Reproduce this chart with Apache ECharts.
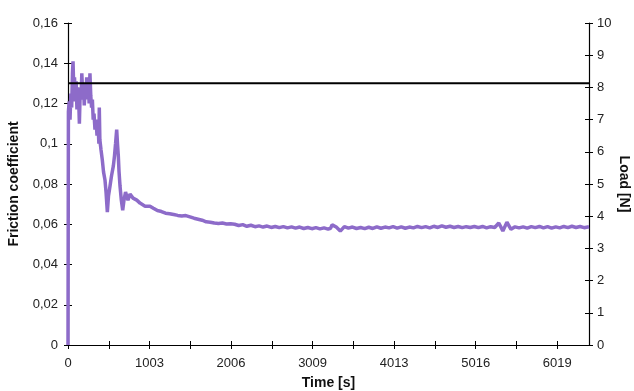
<!DOCTYPE html>
<html>
<head>
<meta charset="utf-8">
<script src="https://cdn.jsdelivr.net/npm/echarts@6/dist/echarts.min.js"></script>
<style>html,body{margin:0;padding:0;background:#fff;}#c{width:634px;height:391px;}</style>
</head>
<body>
<div id="c"></div>
<script>
// ---- data ----
var timeLabels = ['0', '1003', '2006', '3009', '4013', '5016', '6019'];
var frictionLabels = ['0', '0,02', '0,04', '0,06', '0,08', '0,1', '0,12', '0,14', '0,16'];
var loadLabels = ['0', '1', '2', '3', '4', '5', '6', '7', '8', '9', '10'];

var time = [
  0, 5, 15, 25, 35, 45, 55, 62, 70, 80, 90, 100, 110, 120, 130, 140, 150, 160, 170, 180,
  190, 200, 210, 220, 230, 240, 250, 260, 270, 280, 290, 300, 310, 320, 332, 345, 357, 369, 380, 385,
  392, 406, 422, 437, 455, 468, 484, 498, 517, 535, 558, 572,
  585, 599, 609, 619, 628, 640, 656, 673, 689, 708, 722, 738, 763, 800, 846, 886, 948, 1009,
  1050, 1100, 1150, 1200, 1250, 1300, 1350, 1400, 1450, 1500, 1550, 1600, 1650, 1700, 1750, 1800, 1850, 1900, 1950, 2000,
  2050, 2100, 2150, 2200, 2250, 2300, 2350, 2400, 2450, 2500, 2550, 2600, 2650, 2700, 2750, 2800, 2850, 2900, 2950, 3000,
  3050, 3100, 3150, 3200, 3230, 3250, 3300, 3350, 3400, 3450, 3500, 3550, 3600, 3650, 3700, 3750, 3800, 3850, 3900, 3950,
  4000, 4050, 4100, 4150, 4200, 4250, 4300, 4350, 4400, 4450, 4500, 4550, 4600, 4650, 4700, 4750, 4800, 4850, 4900, 4950,
  5000, 5050, 5100, 5150, 5200, 5250, 5300, 5350, 5400, 5450, 5500, 5550, 5600, 5650, 5700, 5750, 5800, 5850, 5900, 5950,
  6000, 6050, 6100, 6150, 6200, 6250, 6300, 6350, 6410
];
var friction = [
  0, 0.116, 0.121, 0.112, 0.125, 0.118, 0.135, 0.141, 0.128, 0.133, 0.121, 0.131, 0.117, 0.128, 0.124, 0.110, 0.126, 0.122, 0.135, 0.125,
  0.130, 0.119, 0.128, 0.122, 0.133, 0.123, 0.130, 0.120, 0.135, 0.124, 0.118, 0.122, 0.112, 0.115, 0.107, 0.112, 0.104, 0.110, 0.100, 0.118,
  0.102, 0.097, 0.092, 0.086, 0.082, 0.076, 0.066, 0.074, 0.079, 0.084, 0.089, 0.094,
  0.100, 0.107, 0.100, 0.094, 0.086, 0.079, 0.072, 0.067, 0.072, 0.076, 0.074, 0.072, 0.075, 0.073, 0.072, 0.0705, 0.069, 0.069,
  0.0680, 0.0668, 0.0663, 0.0655, 0.0652, 0.0648, 0.0644, 0.0641, 0.0643, 0.0637, 0.0630, 0.0625, 0.0620, 0.0612, 0.0610, 0.0606, 0.0604, 0.0606, 0.0601, 0.0603,
  0.0600, 0.0594, 0.0598, 0.0590, 0.0595, 0.0588, 0.0592, 0.0586, 0.0591, 0.0584, 0.0589, 0.0583, 0.0588, 0.0582, 0.0587, 0.0581, 0.0586, 0.0579, 0.0584, 0.0578,
  0.0583, 0.0577, 0.0582, 0.0576, 0.0580, 0.0597, 0.0586, 0.0566, 0.0588, 0.0581, 0.0586, 0.0579, 0.0584, 0.0578, 0.0585, 0.0579, 0.0587, 0.0580, 0.0586, 0.0582,
  0.0588, 0.0581, 0.0587, 0.0580, 0.0586, 0.0582, 0.0589, 0.0583, 0.0588, 0.0582, 0.0590, 0.0584, 0.0592, 0.0585, 0.0590, 0.0584, 0.0589, 0.0583, 0.0588, 0.0584,
  0.0589, 0.0583, 0.0589, 0.0582, 0.0588, 0.0584, 0.0606, 0.0567, 0.0610, 0.0575, 0.0587, 0.0582, 0.0587, 0.0581, 0.0588, 0.0583, 0.0589, 0.0582, 0.0588, 0.0581,
  0.0587, 0.0582, 0.0589, 0.0583, 0.0590, 0.0584, 0.0589, 0.0583, 0.0588, 0.0585
];
var loadTime = [0, 6410];
var loadValue = [8.13, 8.13];

// ---- chart ----
var STEP = 1003.125;
var font = 'Liberation Sans, Arial, sans-serif';
function pairs(a, b) { return a.map(function (v, i) { return [v, b[i]]; }); }
function timeFmt(v) {
  var k = v / STEP, r = Math.round(k);
  return Math.abs(k - r) < 0.01 && timeLabels[r] !== undefined ? timeLabels[r] : '';
}
var lbl = { fontFamily: font, fontSize: 13, color: '#222' };
var nameStyle = { fontFamily: font, fontSize: 14, fontWeight: 'bold', color: '#111' };
var axLine = { show: true, onZero: false, lineStyle: { color: '#000', width: 1.2 } };
var ghostLine = { show: true, onZero: false, lineStyle: { color: 'rgba(0,0,0,0)', width: 1 } };
var tickOut = { show: true, inside: false, length: 4, lineStyle: { color: '#000' } };
var tickIn = { show: true, inside: true, length: 4, lineStyle: { color: '#000' } };

var chart = echarts.init(document.getElementById('c'), null, { renderer: 'canvas' });
chart.setOption({
  backgroundColor: '#fff',
  animation: false,
  grid: { left: 68, right: 45, top: 23, bottom: 46, containLabel: false, outerBoundsMode: 'none' },
  xAxis: [
    {
      type: 'value', min: 0, max: 6410, interval: STEP / 2, position: 'bottom',
      name: 'Time [s]', nameLocation: 'middle', nameGap: 31, nameMoveOverlap: false, nameTextStyle: nameStyle,
      axisLine: axLine, axisTick: tickOut,
      axisLabel: Object.assign({ margin: 12, formatter: timeFmt, showMaxLabel: false }, lbl),
      splitLine: { show: false }
    },
    {
      type: 'value', min: 0, max: 6410, interval: STEP / 2, position: 'bottom',
      axisLine: ghostLine, axisTick: tickIn,
      axisLabel: { show: false }, splitLine: { show: false }
    }
  ],
  yAxis: [
    {
      type: 'value', min: 0, max: 0.16, interval: 0.02, position: 'left',
      name: 'Friction coefficient', nameLocation: 'middle', nameRotate: 90, nameGap: 47, nameMoveOverlap: false, nameTextStyle: nameStyle,
      axisLine: axLine, axisTick: tickOut,
      axisLabel: Object.assign({ margin: 10, formatter: function (v) { return frictionLabels[Math.round(v / 0.02)]; } }, lbl),
      splitLine: { show: false }
    },
    {
      type: 'value', min: 0, max: 0.16, interval: 0.02, position: 'left',
      axisLine: ghostLine, axisTick: tickIn,
      axisLabel: { show: false }, splitLine: { show: false }
    },
    {
      type: 'value', min: 0, max: 10, interval: 1, position: 'right',
      name: 'Load [N]', nameLocation: 'middle', nameRotate: -90, nameGap: 28, nameMoveOverlap: false, nameTextStyle: nameStyle,
      axisLine: axLine, axisTick: tickOut,
      axisLabel: Object.assign({ margin: 8, formatter: function (v) { return loadLabels[Math.round(v)]; } }, lbl),
      splitLine: { show: false }
    },
    {
      type: 'value', min: 0, max: 10, interval: 1, position: 'right',
      axisLine: ghostLine, axisTick: tickIn,
      axisLabel: { show: false }, splitLine: { show: false }
    }
  ],
  series: [
    {
      type: 'line', xAxisIndex: 0, yAxisIndex: 0, data: pairs(time, friction),
      showSymbol: false, lineStyle: { color: '#8d6bc9', width: 3.5 }, z: 2
    },
    {
      type: 'line', xAxisIndex: 0, yAxisIndex: 2, data: pairs(loadTime, loadValue),
      showSymbol: false, lineStyle: { color: '#000', width: 2 }, z: 3
    },
    { type: 'line', xAxisIndex: 1, yAxisIndex: 1, data: [], silent: true },
    { type: 'line', xAxisIndex: 1, yAxisIndex: 3, data: [], silent: true }
  ]
});
</script>
</body>
</html>
